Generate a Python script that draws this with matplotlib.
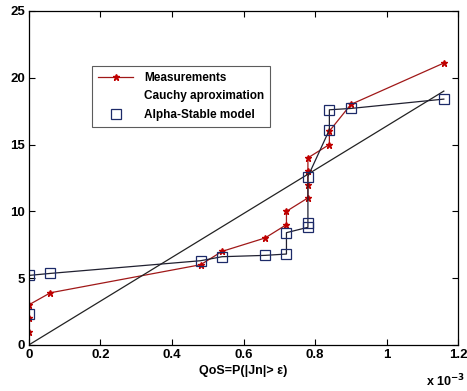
import numpy as np
import matplotlib.pyplot as plt
from matplotlib.ticker import FuncFormatter

plt.rcParams['font.family'] = ['Liberation Sans', 'DejaVu Sans']
plt.rcParams['font.weight'] = 'bold'

# Измерения (QoS, значение)
meas_x = [0, 0, 0, 0.06e-3, 0.48e-3, 0.54e-3, 0.66e-3, 0.72e-3, 0.72e-3,
          0.78e-3, 0.78e-3, 0.78e-3, 0.78e-3, 0.84e-3, 0.84e-3, 0.90e-3, 1.16e-3]
meas_y = [1, 2, 3, 3.9, 6, 7, 8, 9, 10, 11, 12, 13, 14, 15, 16, 18, 21.1]

# Модель Alpha-Stable
alpha_x = [0, 0, 0.06e-3, 0.48e-3, 0.54e-3, 0.66e-3, 0.72e-3, 0.72e-3,
           0.78e-3, 0.78e-3, 0.78e-3, 0.84e-3, 0.84e-3, 0.90e-3, 1.16e-3]
alpha_y = [2.3, 5.2, 5.35, 6.3, 6.6, 6.7, 6.8, 8.4, 8.8, 9.1, 12.6,
           16.1, 17.6, 17.7, 18.4]

# Аппроксимация Коши - прямая
cauchy_x = [0, 1.16e-3]
cauchy_y = [0, 19.0]

fig = plt.figure(figsize=(4.67, 3.91), dpi=100)
ax = fig.add_axes([0.062, 0.118, 0.919, 0.854])

ax.plot(meas_x, meas_y, color='#a01818', lw=0.9, marker='*',
        markersize=5, markerfacecolor='#c00000', markeredgecolor='#c00000',
        label='Measurements')
ax.plot(cauchy_x, cauchy_y, color='#222222', lw=0.9,
        label='Cauchy aproximation')
ax.plot(alpha_x, alpha_y, color='#202030', lw=0.9, marker='s',
        markersize=6.5, markerfacecolor='none', markeredgecolor='#1c2a68',
        markeredgewidth=0.9, label='Alpha-Stable model')

ax.set_xlim(0, 1.2e-3)
ax.set_ylim(0, 25)
ax.set_xticks(np.arange(0, 1.21e-3, 0.2e-3))
ax.set_yticks([0, 5, 10, 15, 20, 25])
ax.xaxis.set_major_formatter(FuncFormatter(lambda v, p: f'{v * 1e3:g}'))
ax.tick_params(direction='in', top=True, right=True, labelsize=9.5,
               length=4, width=0.8, pad=3)
for s in ax.spines.values():
    s.set_linewidth(0.9)

ax.set_xlabel('QoS=P(|Jn|> ε)', fontsize=9, fontweight='bold', labelpad=3)
fig.text(0.912, 0.012, r'x 10$^{-3}$', fontsize=9, fontweight='bold')

leg = ax.legend(loc='upper left', bbox_to_anchor=(0.147, 0.835),
                fontsize=8.5, frameon=True, fancybox=False,
                edgecolor='#333333', handlelength=3.0, handletextpad=0.9,
                borderpad=0.5, labelspacing=0.55, borderaxespad=0)
leg.get_frame().set_linewidth(0.8)
# в легенде у Коши линия почти не видна, у модели - только маркер
leg.get_lines()[1].set_visible(False)
leg.get_lines()[2].set_linestyle('none')
for t in leg.get_texts():
    t.set_fontweight('bold')

fig.savefig('out.png', dpi=100)
